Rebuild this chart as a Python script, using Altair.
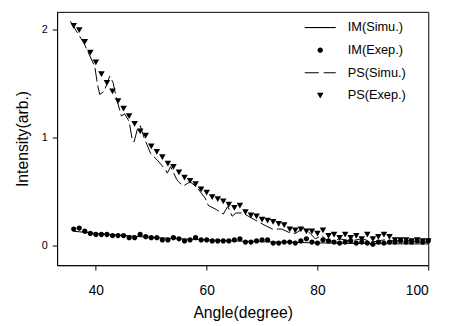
import altair as alt
import pandas as pd

# ---------------- data ----------------
angles_exp = list(range(36, 101))

ps_exp = [2.04, 2.00, 1.89, 1.79, 1.70, 1.59, 1.51, 1.43, 1.34, 1.27,
          1.20, 1.13, 1.06, 1.02, 0.92, 0.87, 0.82, 0.76, 0.73, 0.68,
          0.63, 0.60, 0.57, 0.52, 0.49, 0.45, 0.43, 0.41, 0.38, 0.35,
          0.37, 0.31, 0.28, 0.27, 0.24, 0.23, 0.22, 0.20, 0.19, 0.15,
          0.14, 0.15, 0.13, 0.13, 0.11, 0.14, 0.09, 0.10, 0.07, 0.10,
          0.07, 0.09, 0.06, 0.10, 0.06, 0.08, 0.10, 0.08, 0.05, 0.05,
          0.05, 0.04, 0.05, 0.04, 0.04]

im_exp = [0.15, 0.16, 0.13, 0.11, 0.10, 0.10, 0.10, 0.09, 0.09, 0.09,
          0.07, 0.07, 0.10, 0.08, 0.07, 0.07, 0.05, 0.05, 0.07, 0.06,
          0.04, 0.05, 0.07, 0.05, 0.05, 0.04, 0.04, 0.04, 0.04, 0.05,
          0.06, 0.03, 0.03, 0.04, 0.05, 0.05, 0.02, 0.02, 0.03, 0.03,
          0.02, 0.04, 0.06, 0.03, 0.02, 0.05, 0.04, 0.03, 0.02, 0.03,
          0.04, 0.02, 0.03, 0.02, 0.01, 0.03, 0.02, 0.03, 0.03, 0.04,
          0.03, 0.03, 0.04, 0.03, 0.04]

im_sim_x = [36, 38, 40, 44, 48, 52, 56, 60, 65, 70, 75, 80, 85, 90, 95, 100]
im_sim_y = [0.13, 0.12, 0.11, 0.095, 0.08, 0.068, 0.058, 0.05, 0.04, 0.033,
            0.027, 0.022, 0.018, 0.015, 0.013, 0.012]

ps_sim_x = [35.4, 37.9, 39.8, 40.3, 40.7, 41.5, 42.5, 43.1, 43.7, 44.6,
            45.2, 46.0, 46.6, 46.9, 47.5, 48.0, 48.7, 49.9, 51.1, 52.6,
            52.9, 53.5, 54.6, 54.9, 55.8, 57.0, 58.2, 59.7, 60.3, 61.8,
            63.0, 63.8, 64.6, 65.3, 66.5, 68.9, 70.7, 71.9, 73.6, 74.8,
            76.0, 77.5, 78.7, 79.6, 80.8, 82.0, 84, 86, 88, 90,
            92, 94, 96, 98, 100]
ps_sim_y = [2.08, 1.87, 1.66, 1.49, 1.40, 1.43, 1.57, 1.51, 1.37, 1.20,
            1.22, 1.15, 0.97, 0.96, 1.08, 1.11, 1.00, 0.85, 0.79, 0.70,
            0.67, 0.73, 0.61, 0.59, 0.55, 0.59, 0.54, 0.44, 0.37, 0.33,
            0.29, 0.36, 0.27, 0.30, 0.30, 0.23, 0.18, 0.15, 0.15, 0.12,
            0.11, 0.16, 0.11, 0.06, 0.09, 0.03, 0.06, 0.04, 0.06, 0.03,
            0.05, 0.04, 0.05, 0.03, 0.03]

series_names = ["IM(Simu.)", "IM(Exep.)", "PS(Simu.)", "PS(Exep.)"]
x_ticks = [40, 60, 80, 100]
y_ticks = [0, 1, 2]

# symbol glyphs (unit box -1..1): solid bar, small dot, dashed bar, small triangle
SOLID_BAR = "M-1,-0.035H1V0.035H-1Z"
DOT = "M-0.17,0A0.17,0.17 0 1,0 0.17,0A0.17,0.17 0 1,0 -0.17,0Z"
DASH_BAR = "M-1,-0.035H-0.09V0.035H-1Z M0.22,-0.035H1V0.035H0.22Z"
TRI_DOWN = "M-0.21,-0.17L0.21,-0.17L0,0.2Z"

# ---------------- tables ----------------
exp_df = pd.DataFrame({
    "angle": angles_exp + angles_exp,
    "value": im_exp + ps_exp,
    "series": ["IM(Exep.)"] * len(im_exp) + ["PS(Exep.)"] * len(ps_exp),
})
im_sim_df = pd.DataFrame({"angle": im_sim_x, "value": im_sim_y})
ps_sim_df = pd.DataFrame({"angle": ps_sim_x, "value": ps_sim_y})

FONT = "Liberation Sans"

x_enc = alt.X("angle:Q",
              scale=alt.Scale(domain=[33, 100], nice=False, zero=False),
              axis=alt.Axis(values=x_ticks, title="Angle(degree)", grid=False,
                            labelFontSize=14, titleFontSize=16,
                            tickSize=5, labelPadding=14, titlePadding=7))
y_enc = alt.Y("value:Q",
              scale=alt.Scale(domain=[-0.185, 2.167], nice=False, zero=False),
              axis=alt.Axis(values=y_ticks, title="Intensity(arb.)", grid=False,
                            labelFontSize=11, titleFontSize=16,
                            tickSize=5, labelPadding=5, titlePadding=11))

im_line = alt.Chart(im_sim_df).mark_line(color="black", strokeWidth=1).encode(
    x=x_enc, y=y_enc)
ps_line = alt.Chart(ps_sim_df).mark_line(
    color="black", strokeWidth=1, strokeDash=[14, 4]).encode(x=x_enc, y=y_enc)

legend = alt.Legend(title=None, orient="none", legendX=252, legendY=0,
                    labelFont=FONT, labelFontSize=13, labelColor="black",
                    labelOffset=12, rowPadding=-15, padding=0,
                    symbolSize=1000, symbolStrokeWidth=0)

points = alt.Chart(exp_df).mark_point(
    filled=True, color="black", opacity=1, size=1000, strokeWidth=0
).encode(
    x=x_enc, y=y_enc,
    shape=alt.Shape("series:N",
                    scale=alt.Scale(domain=series_names,
                                    range=[SOLID_BAR, DOT, DASH_BAR, TRI_DOWN]),
                    legend=legend),
)

chart = alt.layer(im_line, ps_line, points).properties(
    width=378, height=258,
    autosize=alt.AutoSizeParams(type="none"),
    padding={"left": 50, "top": 1, "right": 14, "bottom": 59},
).configure_view(
    stroke="black", strokeWidth=1
).configure_axis(
    labelFont=FONT, titleFont=FONT, labelColor="black", titleColor="black",
    domainColor="black", tickColor="black", titleFontWeight="normal",
    labelFontWeight="normal"
)

chart.save("out.html", embed_options={"renderer": "svg", "actions": False})
